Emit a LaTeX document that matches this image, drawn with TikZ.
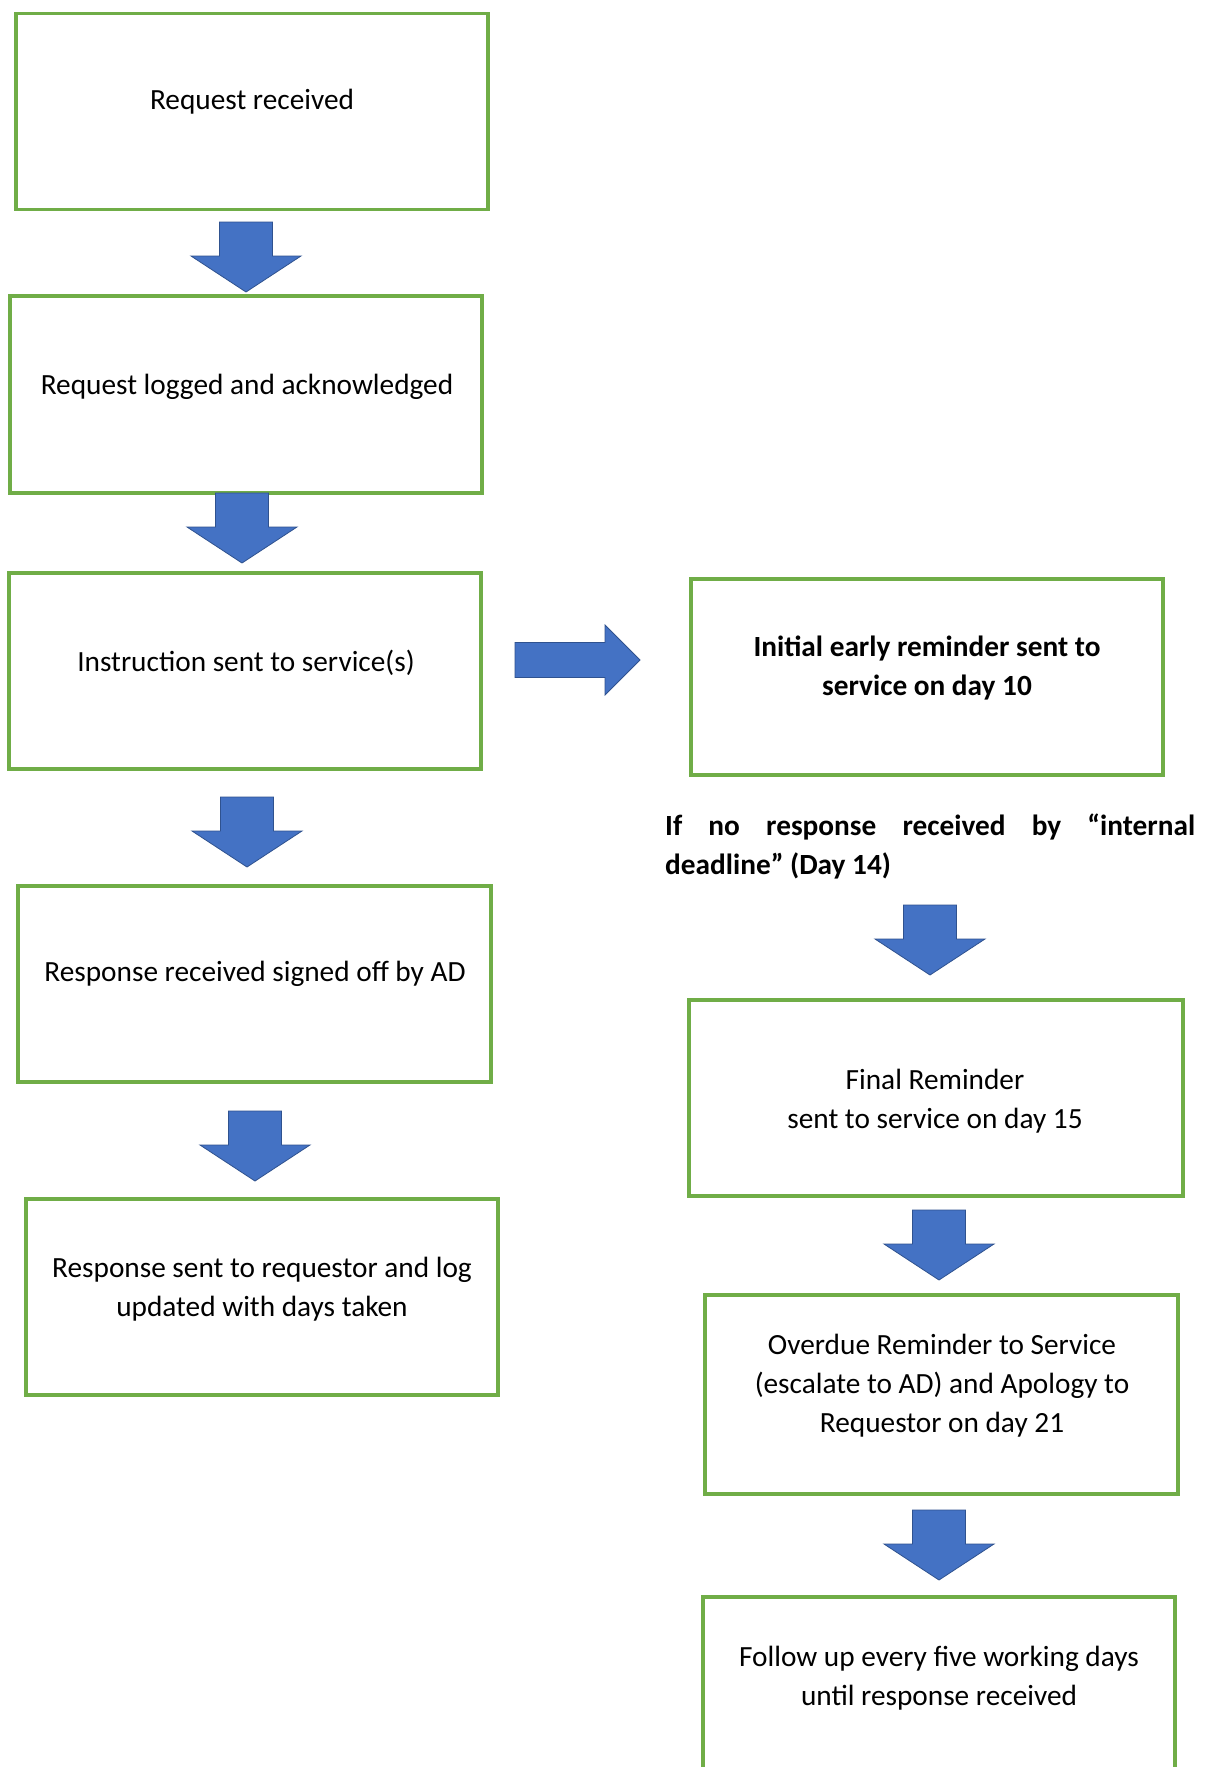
\documentclass[tikz,border=0pt]{standalone}
\usepackage{fontspec}
\setmainfont{Carlito}
\definecolor{boxgreen}{HTML}{70AD47}
\definecolor{arrowblue}{HTML}{4472C4}
\definecolor{arrowedge}{HTML}{2F528F}
\tikzset{
  stepbox/.style={draw=boxgreen, line width=3.5pt, fill=none},
  txt/.style={inner sep=0pt, align=center, font=\fontsize{29.3}{39}\selectfont},
  btxt/.style={txt, font=\fontsize{29.3}{39}\selectfont\bfseries},
  blockarrow/.style={fill=arrowblue, draw=arrowedge, line width=0.8pt},
  downarrow/.pic={\path[blockarrow] (-26.5,0) -- (26.5,0) -- (26.5,34) -- (55,34) -- (0,70) -- (-55,34) -- (-26.5,34) -- cycle;}
}
\begin{document}
\begin{tikzpicture}[x=1pt,y=-1pt]
\useasboundingbox (0,0) rectangle (1207,1767);
\clip (0,0) rectangle (1207,1767);
\fill[white] (0,0) rectangle (1207,1767);
% left column boxes
\node[stepbox, inner sep=0pt, minimum width=472pt, minimum height=196pt] (b1) at (252,111.5) {};
\node[stepbox, inner sep=0pt, minimum width=472pt, minimum height=197pt] (b2) at (246,394.5) {};
\node[stepbox, inner sep=0pt, minimum width=472pt, minimum height=196pt] (b3) at (245,671) {};
\node[stepbox, inner sep=0pt, minimum width=473pt, minimum height=196pt] (b4) at (254.5,984) {};
\node[stepbox, inner sep=0pt, minimum width=472pt, minimum height=196pt] (b5) at (262,1297) {};
% right column boxes
\node[stepbox, inner sep=0pt, minimum width=472pt, minimum height=196pt] (r1) at (927,677) {};
\node[stepbox, inner sep=0pt, minimum width=494pt, minimum height=196pt] (r2) at (936,1098) {};
\node[stepbox, inner sep=0pt, minimum width=473pt, minimum height=199pt] (r3) at (941.5,1394.5) {};
\node[stepbox, inner sep=0pt, minimum width=472pt, minimum height=200pt] (r4) at (939,1697) {};
% texts
\node[txt] (t1) at (252,101.5) {Request received};
\node[txt] (t2) at (247,386.5) {Request logged and acknowledged};
\node[txt] (t3) at (246,662.5) {Instruction sent to service(s)};
\node[txt] (t4) at (255,973.5) {Response received signed off by AD};
\node[txt] (t5) at (262,1289.5) {Response sent to requestor and log\\updated with days taken};
\node[btxt] (tr1) at (927,668) {Initial early reminder sent to\\service on day 10};
\node[btxt, text width=530pt, align=justify, anchor=base west] (note) at (665,835) {If no response received by “internal\linebreak deadline” (Day 14)};
\node[txt] (tr2) at (935,1101) {Final Reminder\\sent to service on day 15};
\node[txt] (tr3) at (942,1386) {Overdue Reminder to Service\\(escalate to AD) and Apology to\\Requestor on day 21};
\node[txt] (tr4) at (939,1678) {Follow up every five working days\\until response received};
% block arrows
\pic (a1) at (246,222) {downarrow};
\pic (a2) at (242,493) {downarrow};
\pic (a3) at (247,797) {downarrow};
\pic (a4) at (255,1111) {downarrow};
\pic (ar1) at (930,905) {downarrow};
\pic (ar2) at (939,1210) {downarrow};
\pic (ar3) at (939,1510) {downarrow};
\path[blockarrow] (515,642.5) -- (605,642.5) -- (605,625) -- (640,660) -- (605,695) -- (605,677.5) -- (515,677.5) -- cycle;
\end{tikzpicture}
\end{document}
